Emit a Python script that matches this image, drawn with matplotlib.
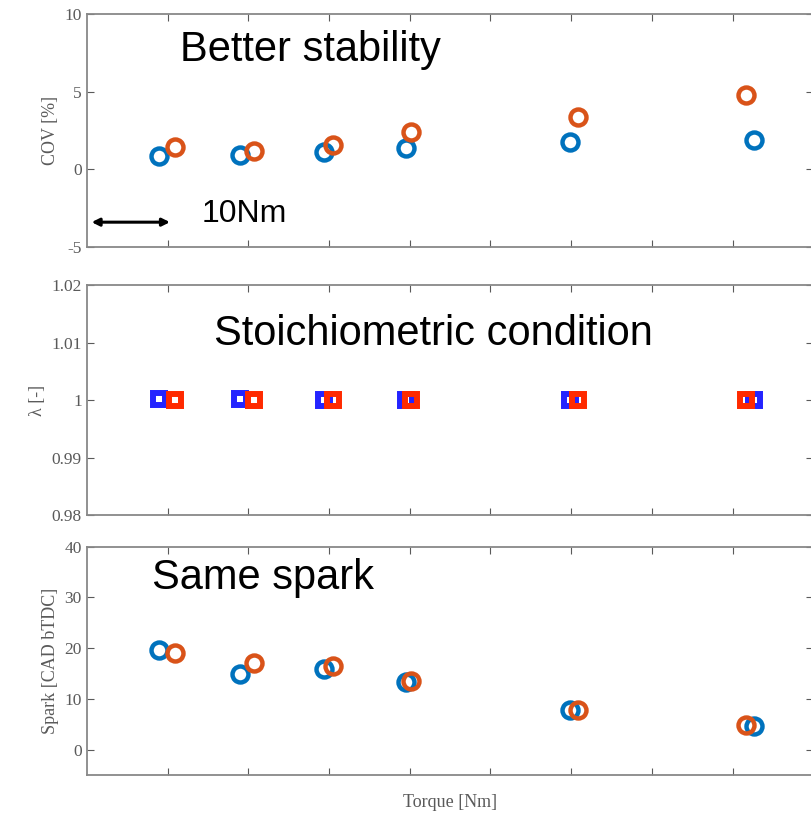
import matplotlib
matplotlib.use("Agg")
import matplotlib.pyplot as plt

# torque positions [Nm] of the two test series (offset slightly in the figure)
torque_a = [8.9, 19.0, 29.4, 39.5, 59.8, 82.7]
torque_b = [10.9, 20.7, 30.5, 40.2, 60.9, 81.6]

cov_a = [0.85, 0.9, 1.1, 1.35, 1.75, 1.9]
cov_b = [1.45, 1.2, 1.55, 2.4, 3.35, 4.8]

lam_a = [1.0002, 1.0002, 1.0, 1.0, 1.0, 1.0]
lam_b = [1.0, 1.0, 1.0, 1.0, 1.0, 1.0]

spark_a = [19.6, 14.9, 15.9, 13.3, 7.9, 4.7]
spark_b = [19.0, 17.0, 16.5, 13.6, 7.8, 4.9]

xticks = [10, 20, 30, 40, 50, 60, 70, 80]

BLUE = "#0072BD"
ORANGE = "#D95319"
SERIF = "Liberation Serif"
SANS = "Liberation Sans"
GREY = "#5a5a5a"

fig = plt.figure(figsize=(8.11, 8.18), dpi=100)
left, width = 0.107, 0.896
ax1 = fig.add_axes([left, 0.698, width, 0.285])
ax2 = fig.add_axes([left, 0.370, width, 0.281])
ax3 = fig.add_axes([left, 0.0526, width, 0.279])


def style(ax, ylim, yticks, yticklabels, ylabel):
    ax.set_xlim(0, 90)
    ax.set_ylim(*ylim)
    ax.set_xticks(xticks)
    ax.set_xticklabels([])
    ax.set_yticks(yticks)
    ax.set_yticklabels(yticklabels, family=SERIF, fontsize=12.5, color=GREY)
    ax.tick_params(direction="in", top=True, right=True, length=5, color=GREY)
    for s in ax.spines.values():
        s.set_color("#888888")
        s.set_linewidth(1.3)
    ax.set_ylabel(ylabel, family=SERIF, fontsize=13, color=GREY, labelpad=4)


circ = dict(ls="none", marker="o", ms=11.5, mfc="none", mew=3.2)
ax1.plot(torque_a, cov_a, color=BLUE, **circ)
ax1.plot(torque_b, cov_b, color=ORANGE, **circ)
style(ax1, (-5, 10), [-5, 0, 5, 10], ["-5", "0", "5", "10"], "COV [%]")
ax1.text(11.5, 7.65, "Better stability", family=SANS, fontsize=30, va="center")
ax1.annotate("", xy=(0.6, -3.4), xytext=(10.3, -3.4),
             arrowprops=dict(arrowstyle="<|-|>", color="black", lw=2.2,
                             mutation_scale=11, shrinkA=0, shrinkB=0))
ax1.text(14.2, -2.9, "10Nm", family=SANS, fontsize=23, va="center")

sq = dict(ls="none", marker="s", ms=8, mfc="none", mew=4.3)
ax2.plot(torque_a, lam_a, color="#2424FF", **sq)
ax2.plot(torque_b, lam_b, color="#FF2A00", **sq)
style(ax2, (0.98, 1.02), [0.98, 0.99, 1.0, 1.01, 1.02],
      ["0.98", "0.99", "1", "1.01", "1.02"], "λ [-]")
ax2.text(15.7, 1.0116, "Stoichiometric condition", family=SANS, fontsize=30, va="center")

ax3.plot(torque_a, spark_a, color=BLUE, **circ)
ax3.plot(torque_b, spark_b, color=ORANGE, **circ)
style(ax3, (-5, 40), [0, 10, 20, 30, 40], ["0", "10", "20", "30", "40"],
      "Spark [CAD bTDC]")
ax3.text(8.1, 33.9, "Same spark", family=SANS, fontsize=30, va="center")
ax3.set_xlabel("Torque [Nm]", family=SERIF, fontsize=13, color=GREY, labelpad=10)

fig.savefig("out.png", dpi=100)
